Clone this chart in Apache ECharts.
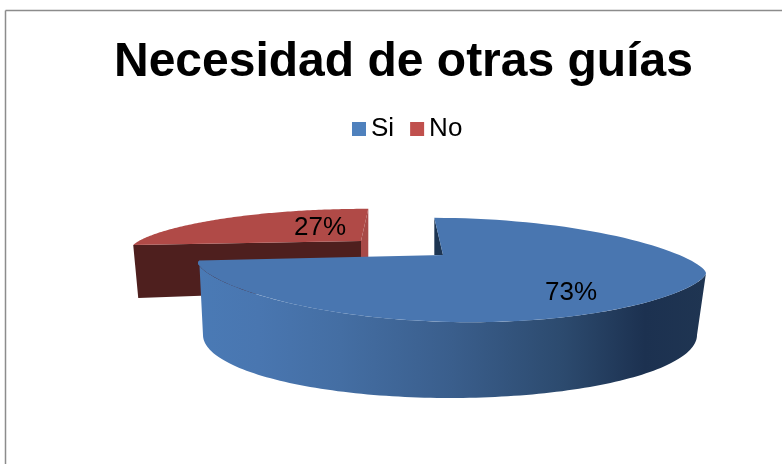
<!DOCTYPE html>
<html><head><meta charset="utf-8">
<style>html,body{margin:0;padding:0;background:#fff}#c{width:782px;height:464px}</style>
<script src="https://cdn.jsdelivr.net/npm/echarts@6/dist/echarts.min.js"></script>
</head><body><div id="c"></div>
<script>
var categories = ['Si', 'No'];
var seriesValues = [73, 27];
var titleText = 'Necesidad de otras guías';

var chart = echarts.init(document.getElementById('c'), null, {renderer:'canvas'});
var total = seriesValues.reduce(function(a,b){return a+b;},0);
var T0 = 266, WARP = 17, RAD = Math.PI/180;
var FONT = '"Liberation Sans", Arial, sans-serif';
var E = {cx:452, cy:268, a:254, bTop:50, bBot:54, slope:0.02, p:1.3};
var Low = {cx:450, cy:335, a:247, b:63};
var blueApex=[443,255], redApex=[361,241];
// slice angle (clockwise from the top) -> parameter on the perspective rim
function toParam(theta){ return T0 + theta - WARP*Math.sin(theta*RAD); }
function rim(t){
  var c=Math.cos(t*RAD), s=Math.sin(t*RAD), dx=E.a*c;
  var y=(s<0?-E.bTop:E.bBot)*Math.pow(Math.abs(s),E.p);
  return [E.cx+dx, E.cy+E.slope*dx+y];
}
function redRim(t){ var q=rim(t); return [q[0]-66, 209+(q[1]-218)*0.85]; }
function low(t){ return [Low.cx+Low.a*Math.cos(t*RAD), Low.cy+Low.b*Math.sin(t*RAD)]; }
function arc(f,t1,t2){
  var p=[],n=120;
  for(var i=0;i<=n;i++) p.push(f(t1+(t2-t1)*i/n));
  return p;
}
function poly(points, fill){ return {type:'polygon', shape:{points:points}, style:{fill:fill}, silent:true}; }
function label(txt,x,y){ return {type:'text', style:{text:txt,x:x,y:y,fill:'#000',font:'26px '+FONT,textAlign:'center',textVerticalAlign:'middle'}, silent:true}; }

function renderBlue(params, api){
  var v = api.value(0), endTheta = v/total*360;
  var t1 = toParam(0), t2 = toParam(endTheta);
  var top = [blueApex].concat(arc(rim,t1,t2));
  var grad = new echarts.graphic.LinearGradient(198,0,706,0,[
    {offset:0,color:'#4a7ab5'},{offset:0.12,color:'#4976b0'},{offset:0.28,color:'#446ea3'},{offset:0.5,color:'#3a5e8c'},
    {offset:0.72,color:'#2c4a6e'},{offset:0.88,color:'#1c3150'},{offset:1,color:'#1f3552'}],true);
  var wall = arc(rim,360,t2).concat(arc(low,180,0));
  var rimTop = rim(t1);
  return {type:'group',children:[
    poly([rimTop,blueApex,[rimTop[0],blueApex[1]]],'#1d3552'),
    poly(wall,grad),
    poly(top,'#4976b0'),
    label(Math.round(v/total*100)+'%',571,293)
  ]};
}
function renderRed(params, api){
  var v = api.value(0), t1 = toParam(360 - v/total*360), t2 = toParam(360);
  var a = arc(redRim,t1-360,t2-360+0);
  var L=a[0], R=a[a.length-1];
  return {type:'group',children:[
    poly([L,redApex,[redApex[0],290],[L[0]+5,298]],'#4e1f1e'),
    poly([R,redApex,[redApex[0],258],[R[0],258]],'#a84a48'),
    poly(a.concat([redApex]),'#b04a47'),
    label(Math.round(v/total*100)+'%',320,228)
  ]};
}
chart.setOption({
  animation:false,
  backgroundColor:'#fff',
  title:{text:titleText,left:114,top:39,textStyle:{fontFamily:FONT,fontWeight:'bold',fontSize:48,color:'#000'},padding:0},
  legend:{data:categories,left:352,top:116,itemWidth:14,itemHeight:14,itemGap:16,padding:0,icon:'rect',selectedMode:false,
    textStyle:{fontFamily:FONT,fontSize:26,color:'#000'}},
  graphic:[
    {type:'line',shape:{x1:5.5,y1:10.5,x2:782,y2:10.5},style:{stroke:'#8c8c8c',lineWidth:1.5},silent:true},
    {type:'line',shape:{x1:5.5,y1:10.5,x2:5.5,y2:464},style:{stroke:'#8c8c8c',lineWidth:1.5},silent:true}
  ],
  series:[
    {type:'custom',name:categories[1],coordinateSystem:'none',renderItem:renderRed,data:[[seriesValues[1]]],itemStyle:{color:'#c0504d'},z:2},
    {type:'custom',name:categories[0],coordinateSystem:'none',renderItem:renderBlue,data:[[seriesValues[0]]],itemStyle:{color:'#4f81bd'},z:3}
  ]
});
</script></body></html>
